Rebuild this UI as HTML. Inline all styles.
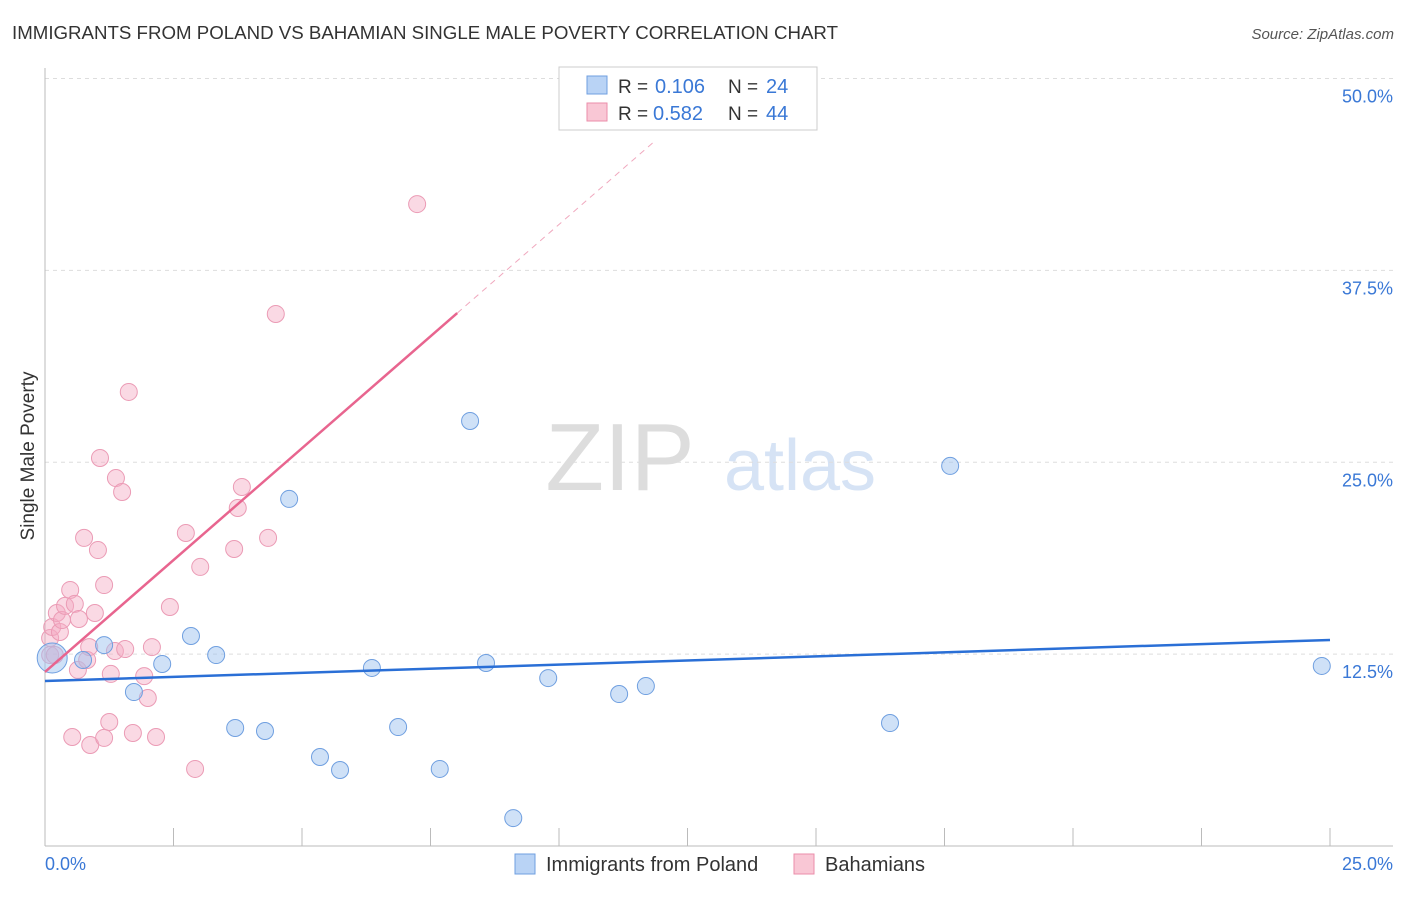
<!DOCTYPE html>
<html><head><meta charset="utf-8"><style>
body{margin:0;background:#fff;font-family:"Liberation Sans",sans-serif}
svg text{font-family:"Liberation Sans",sans-serif}
</style></head><body>
<svg width="1406" height="892" xmlns="http://www.w3.org/2000/svg" id="chart">
<text x="12" y="39" font-size="18" fill="#333" textLength="826" lengthAdjust="spacingAndGlyphs">IMMIGRANTS FROM POLAND VS BAHAMIAN SINGLE MALE POVERTY CORRELATION CHART</text>
<text x="1394" y="39" font-size="15" fill="#555" text-anchor="end" font-style="italic">Source: ZipAtlas.com</text>
<text x="620" y="490" font-size="96" fill="#ddd" font-family="Liberation Serif" text-anchor="middle">ZIP</text>
<text x="800" y="490" font-size="72" fill="#d6e3f5" text-anchor="middle">atlas</text>
<g id="grid"></g>
<g id="axes"></g>
<g id="marks"></g>
<text transform="translate(34,456) rotate(-90)" font-size="19" fill="#333" text-anchor="middle">Single Male Poverty</text>
<g>
<rect x="559" y="67" width="258" height="63" fill="#fff" stroke="#ccc"/>
<rect x="587" y="76" width="20" height="18" fill="#b9d3f5" stroke="#6f9fe0"/>
<text x="618" y="93" font-size="19" fill="#333">R =</text>
<text x="655" y="93" font-size="20" fill="#3a78d6">0.106</text>
<text x="728" y="93" font-size="19" fill="#333">N =</text>
<text x="766" y="93" font-size="20" fill="#3a78d6">24</text>
<rect x="587" y="103" width="20" height="18" fill="#f9c7d5" stroke="#eb8eaa"/>
<text x="618" y="120" font-size="19" fill="#333">R =</text>
<text x="653" y="120" font-size="20" fill="#3a78d6">0.582</text>
<text x="728" y="120" font-size="19" fill="#333">N =</text>
<text x="766" y="120" font-size="20" fill="#3a78d6">44</text>
</g>
<g>
<rect x="515" y="854" width="20" height="20" fill="#b9d3f5" stroke="#6f9fe0"/>
<text x="546" y="871" font-size="20" fill="#333">Immigrants from Poland</text>
<rect x="794" y="854" width="20" height="20" fill="#f9c7d5" stroke="#eb8eaa"/>
<text x="825" y="871" font-size="20" fill="#333">Bahamians</text>
</g>
</svg>
<script>
const yTicks=[12.5,25,37.5,50];
const yTickLabels=["12.5%","25.0%","37.5%","50.0%"];
const xTickLabels=["0.0%","25.0%"];
const blueX=[0.14,0.74,1.15,1.73,2.28,2.84,3.33,3.70,4.28,4.75,5.35,5.74,6.36,6.87,7.68,8.27,8.58,9.11,9.79,11.17,11.69,16.44,17.61,24.84];
const blueY=[12.25,12.12,13.09,10.03,11.86,13.68,12.44,7.69,7.49,22.61,5.80,4.95,11.60,7.75,5.02,27.69,11.92,1.82,10.94,9.90,10.42,8.01,24.76,11.73];
const pinkX=[0.10,0.10,0.14,0.23,0.29,0.33,0.39,0.49,0.58,0.66,0.64,0.76,0.82,0.86,0.88,0.97,1.03,1.07,1.15,0.53,1.15,1.25,1.28,1.36,1.38,1.50,1.56,1.63,1.71,1.93,2.00,2.08,2.16,2.43,2.74,2.92,3.02,3.68,3.75,3.83,4.34,4.49,7.24,0.19];
const pinkY=[13.55,12.44,14.27,15.18,13.94,14.72,15.64,16.68,15.77,14.79,11.47,20.07,12.12,12.96,6.58,15.18,19.28,25.28,17.00,7.10,7.04,8.08,11.21,12.70,23.97,23.06,12.83,29.58,7.36,11.07,9.64,12.96,7.10,15.57,20.39,5.02,18.18,19.35,22.02,23.39,20.07,34.66,41.82,12.44];
const blueTrend=[10.75,13.42];
const pinkTrend=[11.34,2.915];
const NS="http://www.w3.org/2000/svg";
const X=v=>45+v*51.4, Y=v=>846-v*15.35;
function mk(tag,attrs,parent){const e=document.createElementNS(NS,tag);for(const k in attrs)e.setAttribute(k,attrs[k]);document.getElementById(parent).appendChild(e);return e;}
yTicks.forEach((t,i)=>{
 const g=mk('line',{x1:45,x2:1393,y1:Y(t),y2:Y(t),stroke:'#ddd','stroke-dasharray':'4,4'},'grid');
 
 
 const l=mk('text',{x:1393,y:Y(t)+24,'font-size':18,fill:'#3a78d6','text-anchor':'end'},'axes');l.textContent=yTickLabels[i];
 
 
});
let a=mk('line',{x1:45,x2:45,y1:68,y2:846,stroke:'#bbb'},'axes');


a=mk('line',{x1:45,x2:1393,y1:846,y2:846,stroke:'#bbb'},'axes');


for(let i=0;i<=10;i++){const t=mk('line',{x1:X(i*2.5),x2:X(i*2.5),y1:828,y2:846,stroke:'#bbb'},'axes');
 
 }
[[0,'start',45],[25,'end',1393]].forEach((d,i)=>{const t=mk('text',{x:d[2],y:870,'font-size':18,fill:'#3a78d6','text-anchor':d[1]},'axes');t.textContent=xTickLabels[i];
 
 });
pinkX.forEach((x,i)=>{const c=mk('circle',{cx:X(x),cy:Y(pinkY[i]),r:8.5,fill:'rgba(244,170,195,0.45)',stroke:'#eb9bb5','stroke-width':1},'marks');
 
 });
blueX.forEach((x,i)=>{const c=mk('circle',{cx:X(x),cy:Y(blueY[i]),r:i==0?15:8.5,fill:'rgba(160,195,240,0.5)',stroke:'#6f9fe0','stroke-width':1},'marks');
 
 });
let t=mk('line',{x1:X(0),y1:Y(blueTrend[0]),x2:X(25),y2:Y(blueTrend[1]),stroke:'#2a6fd6','stroke-width':2.5},'marks');


const px=8.02;
t=mk('line',{x1:X(0),y1:Y(pinkTrend[0]),x2:X(px),y2:Y(pinkTrend[0]+pinkTrend[1]*px),stroke:'#e8658f','stroke-width':2.5},'marks');


const pe=(46-pinkTrend[0])/pinkTrend[1];
t=mk('line',{x1:X(px),y1:Y(pinkTrend[0]+pinkTrend[1]*px),x2:X(pe),y2:Y(46),stroke:'#f0a8be','stroke-width':1,'stroke-dasharray':'6,5'},'marks');


</script>
</body></html>
